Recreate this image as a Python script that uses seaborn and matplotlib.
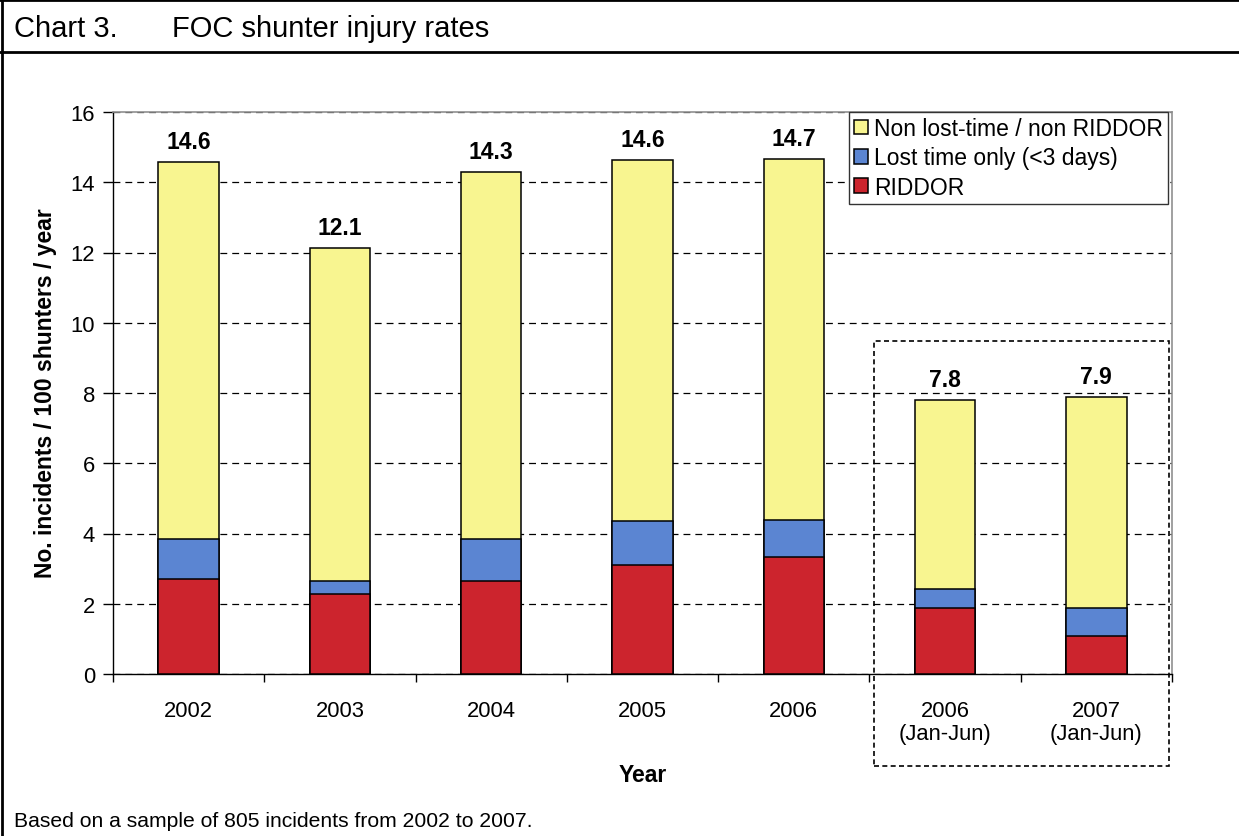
import matplotlib
matplotlib.use("Agg")
import matplotlib.pyplot as plt
import numpy as np
import pandas as pd
import seaborn as sns
from matplotlib.lines import Line2D
from matplotlib.patches import Patch, Rectangle

# Data (incidents / 100 shunters / year)
years = ["2002", "2003", "2004", "2005", "2006", "2006\n(Jan-Jun)", "2007\n(Jan-Jun)"]
riddor = [2.70, 2.27, 2.64, 3.10, 3.33, 1.88, 1.09]
lost_time = [1.14, 0.37, 1.21, 1.26, 1.06, 0.54, 0.80]
non_lost = [10.74, 9.50, 10.45, 10.27, 10.28, 5.38, 6.00]

series_names = ["RIDDOR", "Lost time only (<3 days)", "Non lost-time / non RIDDOR"]
colors = ["#cc242d", "#5b85d2", "#f8f590"]

df = pd.DataFrame({"year": years, "riddor": riddor, "lost": lost_time, "non_lost": non_lost})
df["top_red"] = df["riddor"]
df["top_blue"] = df["riddor"] + df["lost"]
df["total"] = df["top_blue"] + df["non_lost"]

plt.rcParams["font.family"] = ["Liberation Sans", "DejaVu Sans"]

W, H = 1239, 837
fig = plt.figure(figsize=(W / 100, H / 100), dpi=100)
ax = fig.add_axes([113 / W, 1 - 675 / H, 1059 / W, 562 / H])

# Stacked bars: draw cumulative tops back to front
for col, color in zip(["total", "top_blue", "top_red"], colors[::-1]):
    sns.barplot(data=df, x="year", y=col, order=years, color=color, saturation=1,
                width=0.4, edgecolor="black", linewidth=1.1, ax=ax, zorder=3)

# Total labels above each bar
for i, tot in enumerate(df["total"]):
    ax.annotate(f"{tot:.1f}", (i, tot), xytext=(0, 6.5), textcoords="offset points",
                ha="center", va="bottom", fontsize=16.5, fontweight="bold")

ax.set_xlim(-0.5, len(years) - 0.5)
ax.set_ylim(0, 16)
ax.set_yticks(np.arange(0, 17, 2))
ax.yaxis.grid(True, linestyle=(0, (5.5, 4)), color="black", linewidth=0.9)
ax.set_axisbelow(True)

for side in ["top", "right"]:
    ax.spines[side].set_color("#909090")
    ax.spines[side].set_linewidth(1.2)
for side in ["left", "bottom"]:
    ax.spines[side].set_color("black")
    ax.spines[side].set_linewidth(1.0)

ax.tick_params(axis="y", direction="out", length=7, width=1, labelsize=15.8, pad=6)
ax.tick_params(axis="x", which="major", length=0, labelsize=15.8, pad=19)
for lbl in ax.get_xticklabels():
    lbl.set_linespacing(1.1)
ax.set_xticks(np.arange(-0.5, len(years), 1.0), minor=True)
ax.tick_params(axis="x", which="minor", direction="out", length=6, width=1)

ax.set_ylabel("No. incidents / 100 shunters / year", fontsize=16.5, fontweight="bold")
ax.yaxis.label.set_va("center")
ax.yaxis.set_label_coords(-0.0642, 0.501)
ax.set_xlabel("Year", fontsize=16.5, fontweight="bold")
ax.xaxis.label.set_va("center")
ax.xaxis.set_label_coords(0.5, -0.179)

# Dashed box around the half-year comparison
ax.add_patch(Rectangle((4.53, -2.62), 1.95, 12.1, fill=False, linestyle=(0, (3, 2)),
                       linewidth=1.2, edgecolor="black", clip_on=False, zorder=5))

handles = [Patch(facecolor=c, edgecolor="black", linewidth=1.1) for c in colors[::-1]]
leg = ax.legend(handles, series_names[::-1], loc="upper right",
                bbox_to_anchor=(1168 / W, 1 - 113 / H), bbox_transform=fig.transFigure,
                borderaxespad=0, fontsize=16.5, handlelength=0.62, handleheight=0.62,
                handletextpad=0.25, labelspacing=0.28, borderpad=0.22,
                fancybox=False, framealpha=1)
leg.get_frame().set_edgecolor("#333333")
leg.get_frame().set_linewidth(1.0)
leg.set_zorder(6)

# Frame, title and footer
fig.add_artist(Line2D([2 / W, 2 / W], [0, 1], color="black", lw=2))
fig.add_artist(Line2D([0, 1], [1 - 1 / H, 1 - 1 / H], color="black", lw=2))
fig.add_artist(Line2D([0, 1], [1 - 53 / H, 1 - 53 / H], color="black", lw=2))
fig.text(14 / W, 1 - 29 / H, "Chart 3.", fontsize=21, va="center")
fig.text(172 / W, 1 - 29 / H, "FOC shunter injury rates", fontsize=21, va="center")
fig.text(14 / W, 1 - 822 / H, "Based on a sample of 805 incidents from 2002 to 2007.",
         fontsize=15.2, va="center")

fig.savefig("out.png", dpi=100)
